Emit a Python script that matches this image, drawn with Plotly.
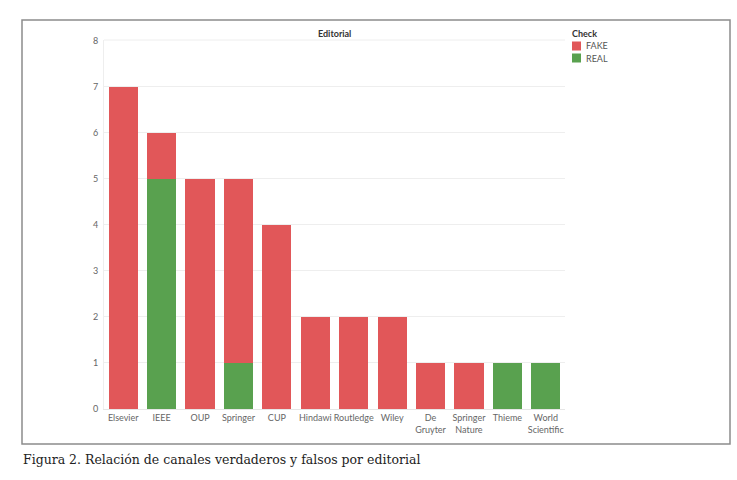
import plotly.graph_objects as go

categories = ["Elsevier", "IEEE", "OUP", "Springer", "CUP", "Hindawi", "Routledge",
              "Wiley", "De<br>Gruyter", "Springer<br>Nature", "Thieme", "World<br>Scientific"]
real_values = [0, 5, 0, 1, 0, 0, 0, 0, 0, 0, 1, 1]
fake_values = [7, 1, 5, 4, 4, 2, 2, 2, 1, 1, 0, 0]
y_ticks = [0, 1, 2, 3, 4, 5, 6, 7, 8]
legend_items = [("FAKE", "#E15759"), ("REAL", "#59A14F")]

W, H = 737, 480
L, R, T, B = 104, 172, 40, 71
pw, ph = W - L - R, H - T - B

def px(x):
    return (x - L) / pw

def py(y):
    return (H - B - y) / ph

fig = go.Figure()
fig.add_bar(x=categories, y=real_values, name="REAL", marker_color="#59A14F",
            marker_line_width=0)
fig.add_bar(x=categories, y=fake_values, name="FAKE", marker_color="#E15759",
            marker_line_width=0)

shapes = [
    dict(type="rect", xref="paper", yref="paper",
         x0=px(22), x1=px(730), y0=py(444), y1=py(20),
         line=dict(color="#8c8c8c", width=1.5), fillcolor="rgba(0,0,0,0)", layer="below"),
    dict(type="line", xref="paper", yref="paper",
         x0=0, x1=1, y0=1, y1=1, line=dict(color="#eeeeee", width=1)),
]
annotations = [
    dict(text="<b>Editorial</b>", xref="paper", yref="paper", x=0.5, y=py(34),
         xanchor="center", yanchor="middle", showarrow=False,
         font=dict(size=9, color="#333")),
    dict(text="Figura 2. Relación de canales verdaderos y falsos por editorial",
         xref="paper", yref="paper", x=px(21), y=py(459), xanchor="left",
         yanchor="middle", showarrow=False,
         font=dict(family="DejaVu Serif, Liberation Serif, serif", size=12.5, color="#222")),
    dict(text="<b>Check</b>", xref="paper", yref="paper", x=px(570), y=py(34),
         xanchor="left", yanchor="middle", showarrow=False,
         font=dict(size=9, color="#333")),
]
for i, (name, color) in enumerate(legend_items):
    yc = 46 + 12 * i
    shapes.append(dict(type="rect", xref="paper", yref="paper",
                       x0=px(572), x1=px(581), y0=py(yc + 4.5), y1=py(yc - 4.5),
                       line=dict(width=0), fillcolor=color))
    annotations.append(dict(text=name, xref="paper", yref="paper", x=px(584), y=py(yc),
                            xanchor="left", yanchor="middle", showarrow=False,
                            font=dict(size=9, color="#555")))

fig.update_layout(
    width=W, height=H, barmode="stack", bargap=0.24,
    margin=dict(l=L, r=R, t=T, b=B),
    plot_bgcolor="white", paper_bgcolor="white",
    font=dict(family="Lato, Noto Sans, sans-serif", size=9, color="#666"),
    showlegend=False,
    xaxis=dict(showgrid=False, showline=True, linecolor="#e6e6e6", ticks="",
               tickangle=0, tickfont=dict(size=9, color="#666"), automargin=False),
    yaxis=dict(range=[0, 8.02], tickvals=y_ticks, showgrid=True, gridcolor="#eeeeee",
               zeroline=False, showline=True, linecolor="#eeeeee", ticks="",
               tickfont=dict(size=9, color="#666"), ticklabelstandoff=3, automargin=False),
    shapes=shapes,
    annotations=annotations,
)

fig.write_html("out.html", config={"displayModeBar": False},
               post_script="document.body.style.margin='0';")
